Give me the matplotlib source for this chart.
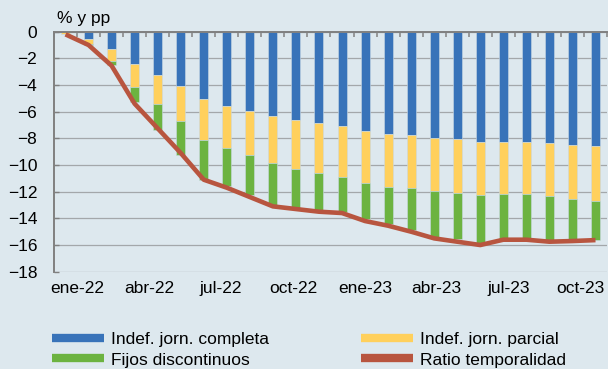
import numpy as np
import matplotlib
matplotlib.use("Agg")
import matplotlib.pyplot as plt
from matplotlib.lines import Line2D

plt.rcParams["font.family"] = ["Liberation Sans", "DejaVu Sans"]

# meses ene-22 .. dic-23
meses = ["ene-22", "feb-22", "mar-22", "abr-22", "may-22", "jun-22",
         "jul-22", "ago-22", "sep-22", "oct-22", "nov-22", "dic-22",
         "ene-23", "feb-23", "mar-23", "abr-23", "may-23", "jun-23",
         "jul-23", "ago-23", "sep-23", "oct-23", "nov-23", "dic-23"]

# contribuciones (pp), negativas
indef_completa = [0.0, -0.58, -1.3, -2.43, -3.28, -4.1, -5.08, -5.6, -5.98, -6.33, -6.6, -6.88,
                  -7.1, -7.48, -7.65, -7.75, -7.95, -8.08, -8.3, -8.3, -8.3, -8.38, -8.53, -8.6]
indef_parcial = [-0.15, -0.37, -0.9, -1.7, -2.17, -2.6, -3.02, -3.13, -3.3, -3.55, -3.68, -3.75,
                 -3.8, -3.85, -3.98, -4.0, -4.03, -4.02, -3.98, -3.88, -3.85, -3.95, -4.05, -4.08]
fijos_disc = [0.0, -0.05, -0.3, -1.17, -1.93, -2.55, -3.0, -2.85, -2.97, -3.12, -2.92, -2.82,
              -2.6, -2.75, -2.8, -3.13, -3.47, -3.45, -3.6, -3.37, -3.4, -3.3, -3.05, -2.92]
ratio_temp = [-0.2, -1.0, -2.55, -5.4, -7.25, -9.1, -11.1, -11.7, -12.4, -13.1, -13.3, -13.5,
              -13.6, -14.2, -14.55, -15.0, -15.5, -15.75, -16.0, -15.6, -15.6, -15.75, -15.7, -15.63]

c_azul = "#3873b9"
c_amar = "#ffd05c"
c_verde = "#6cb340"
c_rojo = "#b8553f"
fondo = "#dde8ee"

fig = plt.figure(figsize=(6.08, 3.69), dpi=100, facecolor=fondo)
ax = fig.add_axes([54/608, 1 - 271.7/369, 553/608, 240/369])
ax.set_facecolor(fondo)

x = np.arange(len(meses))
a = np.array(indef_completa)
b = np.array(indef_parcial)
c = np.array(fijos_disc)
w = 0.39
ax.bar(x, a, w, color=c_azul, edgecolor="#c9d9e4", linewidth=0.4, zorder=2)
ax.bar(x, b, w, bottom=a, color=c_amar, edgecolor="#c9d9e4", linewidth=0.4, zorder=2)
ax.bar(x, c, w, bottom=a + b, color=c_verde, edgecolor="#c9d9e4", linewidth=0.4, zorder=2)
ax.plot(x, ratio_temp, color=c_rojo, lw=3.3, solid_capstyle="butt",
        solid_joinstyle="round", zorder=3)

ax.set_xlim(-0.5, len(meses) - 0.5)
ax.set_ylim(-18, 0)
ax.set_yticks(np.arange(-18, 1, 2))
ax.yaxis.grid(True, color="#a3a7aa", lw=0.9, zorder=0)
ax.set_axisbelow(True)

# etiquetas cada tres meses, marcas de categoria arriba
ax.set_xticks(np.linspace(0.52, 22.35, 8))
ax.set_xticklabels(meses[::3])
ax.set_xticks(np.arange(-0.5, len(meses), 1), minor=True)
ax.tick_params(axis="x", which="major", length=0, pad=7, labelsize=12.5)
ax.tick_params(axis="x", which="minor", top=True, bottom=False, direction="in",
               length=3.5, width=1.2, color="#8a8a8a")
ax.tick_params(axis="y", direction="in", length=3.5, width=1.0, color="#7f7f7f",
               pad=12, labelsize=12.5)

for s in ["right", "bottom"]:
    ax.spines[s].set_visible(False)
for s in ["left", "top"]:
    ax.spines[s].set_color("#808080")
    ax.spines[s].set_linewidth(1.4)

fig.text(57/608, 1 - 18/369, "% y pp", fontsize=12.5, va="center", ha="left")

handles = [Line2D([], [], color=c_azul, lw=6, solid_capstyle="butt"),
           Line2D([], [], color=c_verde, lw=6, solid_capstyle="butt"),
           Line2D([], [], color=c_amar, lw=6, solid_capstyle="butt"),
           Line2D([], [], color=c_rojo, lw=6, solid_capstyle="butt")]
labels = ["Indef. jorn. completa", "Fijos discontinuos",
          "Indef. jorn. parcial", "Ratio temporalidad"]
fig.legend(handles, labels, ncol=2, loc="upper left",
           bbox_to_anchor=(52/608, 1 - 332/369), frameon=False, fontsize=12.5,
           handlelength=3.0, handletextpad=0.4, columnspacing=5.3,
           labelspacing=0.3, borderpad=0, borderaxespad=0)

fig.savefig("out.png", dpi=100, facecolor=fondo)
